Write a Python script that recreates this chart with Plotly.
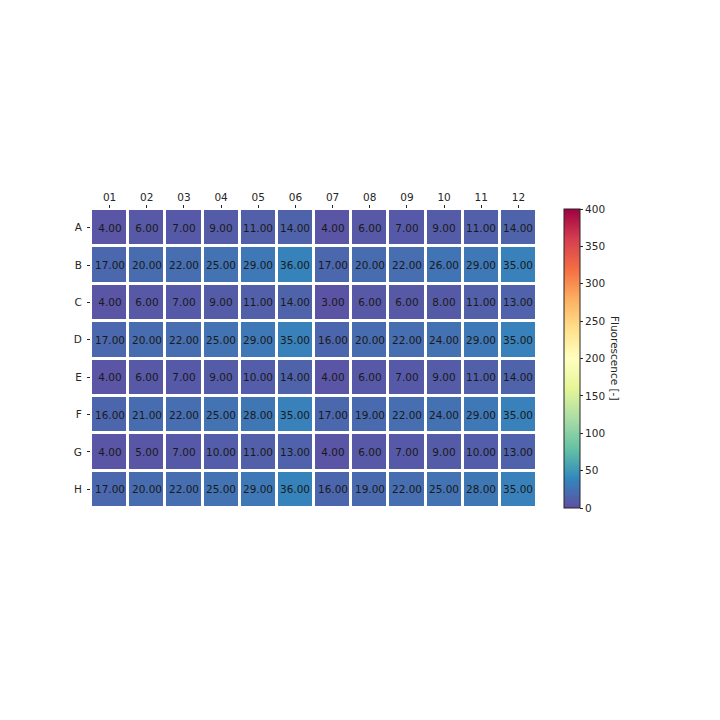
import plotly.graph_objects as go

rows = ["A", "B", "C", "D", "E", "F", "G", "H"]
cols = ["01", "02", "03", "04", "05", "06", "07", "08", "09", "10", "11", "12"]

row_A = [4, 6, 7, 9, 11, 14, 4, 6, 7, 9, 11, 14]
row_B = [17, 20, 22, 25, 29, 36, 17, 20, 22, 26, 29, 35]
row_C = [4, 6, 7, 9, 11, 14, 3, 6, 6, 8, 11, 13]
row_D = [17, 20, 22, 25, 29, 35, 16, 20, 22, 24, 29, 35]
row_E = [4, 6, 7, 9, 10, 14, 4, 6, 7, 9, 11, 14]
row_F = [16, 21, 22, 25, 28, 35, 17, 19, 22, 24, 29, 35]
row_G = [4, 5, 7, 10, 11, 13, 4, 6, 7, 9, 10, 13]
row_H = [17, 20, 22, 25, 29, 36, 16, 19, 22, 25, 28, 35]

z = [row_A, row_B, row_C, row_D, row_E, row_F, row_G, row_H]

spectral = ["#9e0142", "#d53e4f", "#f46d43", "#fdae61", "#fee08b", "#ffffbf",
            "#e6f598", "#abdda4", "#66c2a5", "#3288bd", "#5e4fa2"]
spectral_r = spectral[::-1]
colorscale = [[i / (len(spectral_r) - 1), c] for i, c in enumerate(spectral_r)]

font = "DejaVu Sans"
txt = "#262626"

fig = go.Figure(go.Heatmap(
    z=z, x=cols, y=rows,
    zmin=0, zmax=400,
    colorscale=colorscale,
    xgap=3, ygap=3,
    texttemplate="%{z:.2f}",
    textfont=dict(family=font, size=10.5, color="#1a1a1a"),
    colorbar=dict(
        x=1.0605, xanchor="left", xref="paper", xpad=0, ypad=0,
        y=0.5, yanchor="middle", len=1, lenmode="fraction",
        thickness=16, thicknessmode="pixels",
        outlinewidth=1, outlinecolor=txt,
        ticks="outside", ticklen=3, tickwidth=1, tickcolor=txt,
        tickvals=[0, 50, 100, 150, 200, 250, 300, 350, 400],
        tickfont=dict(family=font, size=10.5, color=txt),
    ),
))

fig.add_annotation(
    text="Fluorescence [-]", textangle=90,
    xref="paper", yref="paper", x=1.176, y=0.5,
    xanchor="center", yanchor="middle", showarrow=False,
    font=dict(family=font, size=10.5, color=txt),
)

fig.update_layout(
    width=712, height=712,
    margin=dict(l=83, r=183, t=201, b=212, autoexpand=False),
    paper_bgcolor="white", plot_bgcolor="white",
    font=dict(family=font, size=10.5, color=txt),
    xaxis=dict(side="top", ticks="outside", ticklen=3, tickcolor=txt,
               showgrid=False, zeroline=False, showline=False,
               tickfont=dict(family=font, size=10.5, color=txt)),
    yaxis=dict(autorange="reversed", ticks="outside", ticklen=3, tickcolor=txt,
               ticklabelstandoff=3,
               showgrid=False, zeroline=False, showline=False,
               tickfont=dict(family=font, size=10.5, color=txt)),
)

fig.write_html("out.html")
